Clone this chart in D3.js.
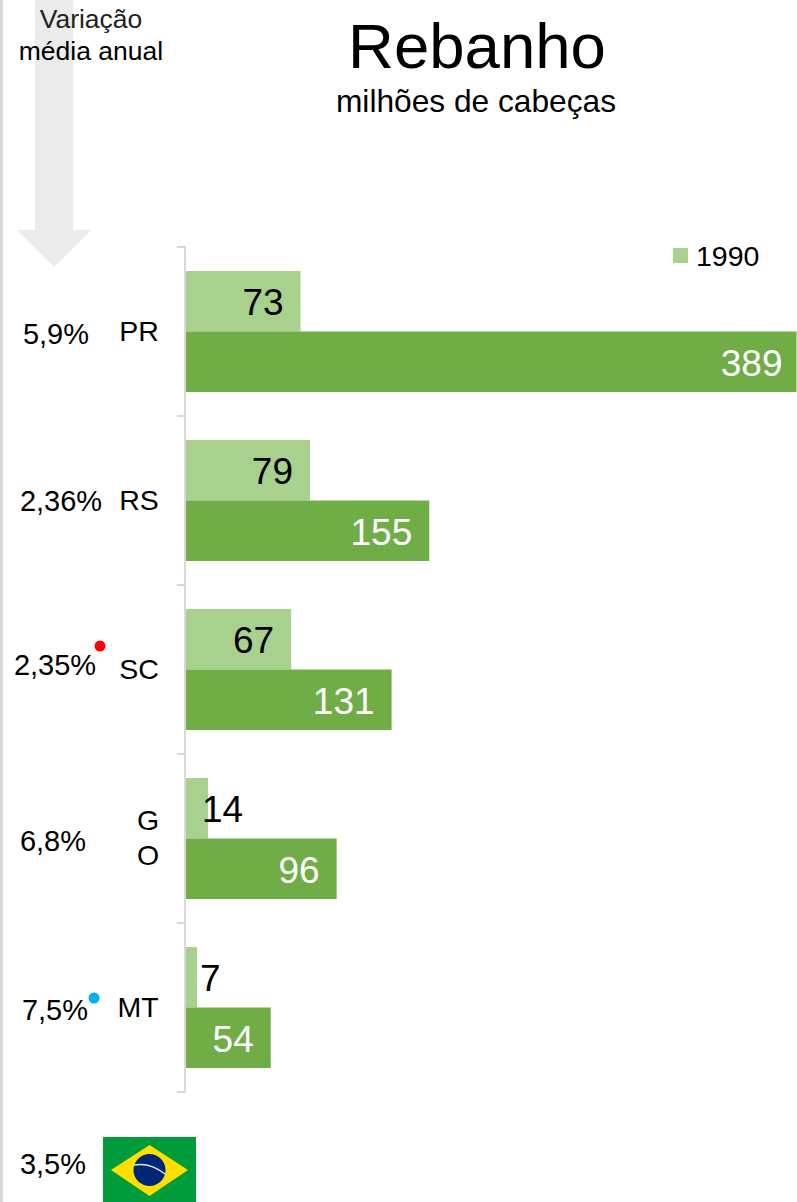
<!DOCTYPE html>
<html lang="en">
<head>
  <meta charset="UTF-8">
  <title>Rebanho</title>
  <script src="https://d3js.org/d3.v7.min.js"></script>
  <style>
    html, body { margin: 0; padding: 0; background: #fff; }
    svg { display: block; font-family: "Liberation Sans", Arial, sans-serif; }
  </style>
</head>
<body>
  <svg id="chart" width="797" height="1202"></svg>
  <script>
    // Data
    const states = ["PR", "RS", "SC", "GO", "MT"];
    const values1990 = [73, 79, 67, 14, 7];
    const valuesLatest = [389, 155, 131, 96, 54];
    const growth = ["5,9%", "2,36%", "2,35%", "6,8%", "7,5%"];
    const brazilGrowth = "3,5%";
    const seriesNames = ["1990", "latest"];

    const svg = d3.select("#chart");
    const x = d3.scaleLinear().domain([0, 389]).range([186, 796.5]);
    const y = d3.scaleBand().domain(states).range([247, 1092]);
    const inner = d3.scaleBand().domain(seriesNames).range([24, 145]);

    // Page edge line
    svg.append("rect").attr("width", 3).attr("height", 1202).attr("fill", "#d9d9d9");

    // Big arrow behind the header
    svg.append("path")
      .attr("d", "M35,0H73V230H91L54,267L17,230H35Z")
      .attr("fill", "#ebebeb");

    // Header text
    svg.append("text").attr("x", 477).attr("y", 68).attr("text-anchor", "middle")
      .attr("font-size", 63.5).text("Rebanho");
    svg.append("text").attr("x", 476).attr("y", 112).attr("text-anchor", "middle")
      .attr("font-size", 31.7).text("milhões de cabeças");
    svg.append("text").attr("x", 91).attr("y", 28).attr("text-anchor", "middle")
      .attr("font-size", 26.5).attr("fill", "#222").text("Variação");
    svg.append("text").attr("x", 91).attr("y", 60).attr("text-anchor", "middle")
      .attr("font-size", 26.5).text("média anual");

    // Bars
    const rows = svg.selectAll(".row").data(states).enter().append("g")
      .attr("class", "row")
      .attr("transform", d => `translate(0,${y(d)})`);

    rows.append("rect")
      .attr("x", x(0))
      .attr("y", inner("1990"))
      .attr("width", (d, i) => x(values1990[i]) - x(0))
      .attr("height", inner.bandwidth())
      .attr("fill", "#a9d18e");

    rows.append("rect")
      .attr("x", x(0))
      .attr("y", inner("latest"))
      .attr("width", (d, i) => x(valuesLatest[i]) - x(0))
      .attr("height", inner.bandwidth())
      .attr("fill", "#70ad47");

    // Value labels: the two smallest 1990 bars have theirs outside
    rows.append("text")
      .attr("x", (d, i) => values1990[i] < 20 ? x(values1990[i]) + (values1990[i] < 10 ? 3 : -6) : x(values1990[i]) - 17)
      .attr("y", inner("1990") + 44)
      .attr("text-anchor", (d, i) => values1990[i] < 20 ? "start" : "end")
      .attr("font-size", 37).attr("fill", "#000")
      .text((d, i) => values1990[i]);

    // the longest bar runs off the page, so its label sits closer to the end
    rows.append("text")
      .attr("x", (d, i) => x(valuesLatest[i]) - (i === 0 ? 14 : 17))
      .attr("y", inner("latest") + 44)
      .attr("text-anchor", "end")
      .attr("font-size", 37).attr("fill", "#fff")
      .text((d, i) => valuesLatest[i]);

    // Axis line with ticks between the categories
    const axisColor = "#d9d9d9";
    svg.append("line").attr("x1", x(0) - 1).attr("x2", x(0) - 1)
      .attr("y1", 247).attr("y2", 1092).attr("stroke", axisColor).attr("stroke-width", 2);
    svg.selectAll(".tick").data(states.concat("end")).enter().append("line")
      .attr("class", "tick")
      .attr("x1", x(0) - 9).attr("x2", x(0))
      .attr("y1", (d, i) => 247 + i * y.step())
      .attr("y2", (d, i) => 247 + i * y.step())
      .attr("stroke", axisColor).attr("stroke-width", 2);

    // Category labels (GO wraps in the original)
    rows.each(function(d, i) {
      const g = d3.select(this);
      if (d === "GO") {
        g.append("text").attr("x", 148).attr("y", 76).attr("text-anchor", "middle")
          .attr("font-size", 28.5).text("G");
        g.append("text").attr("x", 148).attr("y", 111).attr("text-anchor", "middle")
          .attr("font-size", 28.5).text("O");
      } else {
        g.append("text").attr("x", d === "MT" ? 138 : 139).attr("y", 94).attr("text-anchor", "middle")
          .attr("font-size", 28.5).text(d);
      }
    });

    // Growth labels
    const growthX = [56, 61, 55, 53, 55];
    const growthY = [97, 95, 90, 97, 97];
    rows.append("text")
      .attr("x", (d, i) => growthX[i])
      .attr("y", (d, i) => growthY[i])
      .attr("text-anchor", "middle")
      .attr("font-size", 29)
      .text((d, i) => growth[i]);

    // Marker dots
    svg.append("circle").attr("cx", 100).attr("cy", 646).attr("r", 5.5).attr("fill", "#ff0000");
    svg.append("circle").attr("cx", 94).attr("cy", 998).attr("r", 5.5).attr("fill", "#00b0f0");

    // Legend
    svg.append("rect").attr("x", 673).attr("y", 248).attr("width", 15).attr("height", 15).attr("fill", "#a9d18e");
    svg.append("text").attr("x", 696).attr("y", 266).attr("font-size", 28.5).text(seriesNames[0]);

    // Brazil row
    svg.append("text").attr("x", 53).attr("y", 1174).attr("text-anchor", "middle")
      .attr("font-size", 29).text(brazilGrowth);
    const flag = svg.append("g").attr("transform", "translate(103,1137)");
    flag.append("rect").attr("width", 93).attr("height", 65).attr("fill", "#009b3a");
    flag.append("path").attr("d", "M8,33L46.500,8L85,33L46.500,59Z").attr("fill", "#fedf00");
    flag.append("circle").attr("cx", 46.5).attr("cy", 33).attr("r", 16).attr("fill", "#002776");
    flag.append("path").attr("d", "M31,28Q47,25 62,37").attr("fill", "none")
      .attr("stroke", "#dfe8e8").attr("stroke-width", 1.5);
  </script>
</body>
</html>
